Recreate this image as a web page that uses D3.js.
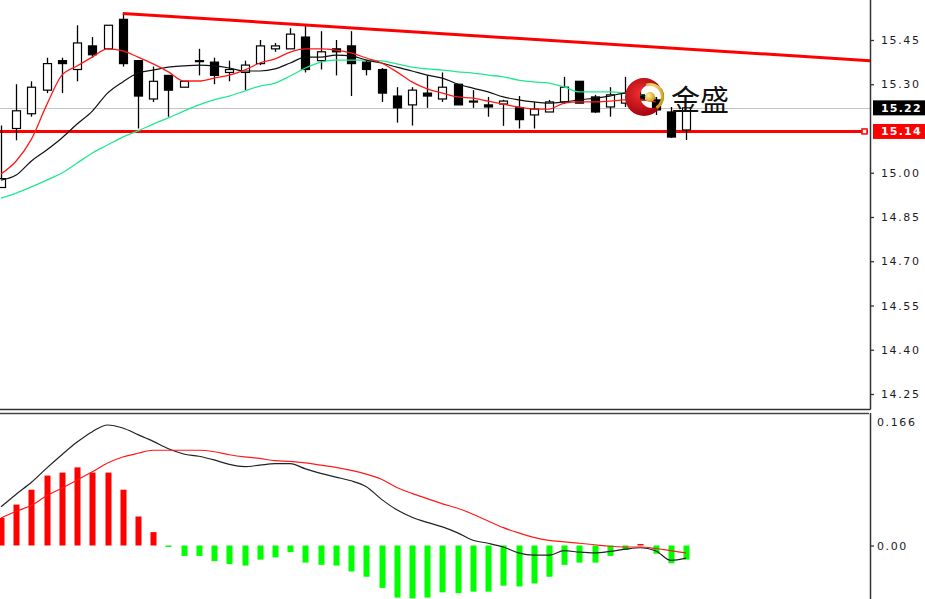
<!DOCTYPE html>
<html>
<head>
<meta charset="utf-8">
<script src="https://cdn.jsdelivr.net/npm/d3@7"></script>
<style>
  html, body { margin: 0; padding: 0; background: #fff; }
  svg { display: block; }
</style>
</head>
<body>
<div id="chart"></div>
<script>
// ---------- DATA ----------
const bars = d3.range(46); // bar index (time order)

const opens  = [14.95,15.15,15.20,15.28,15.38,15.35,15.43,15.42,15.52,15.38,15.25,15.33,15.29,15.38,15.375,15.34,15.34,15.37,15.42,15.42,15.46,15.38,15.42,15.43,15.375,15.35,15.26,15.23,15.27,15.25,15.30,15.243,15.23,15.233,15.22,15.196,15.206,15.24,15.31,15.257,15.223,15.236,15.264,15.247,15.206,15.145];
const highs  = [15.16,15.30,15.31,15.39,15.39,15.50,15.46,15.50,15.54,15.38,15.36,15.33,15.31,15.42,15.39,15.38,15.38,15.45,15.44,15.49,15.50,15.48,15.45,15.48,15.38,15.355,15.29,15.29,15.33,15.34,15.30,15.28,15.257,15.247,15.26,15.24,15.247,15.325,15.31,15.264,15.29,15.325,15.28,15.257,15.223,15.22];
const lows   = [14.95,15.11,15.19,15.27,15.27,15.31,15.39,15.42,15.36,15.15,15.24,15.19,15.29,15.33,15.30,15.31,15.28,15.365,15.41,15.42,15.34,15.35,15.33,15.26,15.33,15.24,15.17,15.16,15.22,15.24,15.23,15.22,15.19,15.159,15.15,15.15,15.206,15.233,15.236,15.203,15.19,15.223,15.233,15.196,15.118,15.111];
const closes = [14.98,15.21,15.29,15.37,15.37,15.44,15.40,15.50,15.37,15.26,15.31,15.28,15.31,15.38,15.33,15.35,15.365,15.43,15.43,15.47,15.35,15.41,15.41,15.37,15.35,15.27,15.22,15.28,15.26,15.29,15.23,15.243,15.223,15.243,15.18,15.216,15.24,15.29,15.236,15.206,15.264,15.27,15.247,15.213,15.121,15.22];

const maFast = [14.996,15.040,15.114,15.230,15.331,15.362,15.392,15.420,15.413,15.392,15.369,15.342,15.311,15.311,15.321,15.331,15.348,15.372,15.386,15.409,15.420,15.420,15.416,15.406,15.389,15.372,15.342,15.308,15.284,15.270,15.257,15.253,15.243,15.233,15.223,15.216,15.216,15.236,15.240,15.240,15.243,15.247,15.247,15.240];
const maMid  = [14.975,14.992,15.040,15.077,15.118,15.165,15.209,15.270,15.308,15.338,15.348,15.358,15.362,15.365,15.362,15.355,15.345,15.345,15.352,15.372,15.392,15.392,15.399,15.396,15.382,15.372,15.358,15.345,15.331,15.321,15.301,15.287,15.274,15.257,15.247,15.240,15.236,15.240,15.247,15.253,15.260,15.270,15.264,15.253];
const maSlow = [14.914,14.931,14.952,14.975,14.999,15.033,15.067,15.094,15.121,15.142,15.165,15.186,15.209,15.230,15.247,15.260,15.277,15.294,15.304,15.328,15.355,15.375,15.382,15.382,15.382,15.379,15.369,15.358,15.352,15.348,15.342,15.338,15.331,15.325,15.314,15.308,15.304,15.291,15.274,15.274,15.274,15.270,15.264,15.253];

const macdHist = [0.037,0.055,0.075,0.094,0.098,0.105,0.098,0.098,0.075,0.039,0.018,-0.002,-0.014,-0.014,-0.021,-0.025,-0.027,-0.019,-0.016,-0.009,-0.023,-0.026,-0.027,-0.035,-0.042,-0.057,-0.070,-0.071,-0.070,-0.063,-0.064,-0.062,-0.062,-0.054,-0.055,-0.051,-0.042,-0.026,-0.023,-0.023,-0.014,-0.006,0.002,-0.011,-0.024,-0.019];
const macdLine = [0.052,0.069,0.085,0.104,0.122,0.139,0.153,0.162,0.158,0.149,0.140,0.130,0.123,0.120,0.115,0.109,0.106,0.108,0.110,0.110,0.103,0.097,0.092,0.087,0.079,0.062,0.048,0.038,0.031,0.025,0.017,0.007,0.003,-0.002,-0.010,-0.013,-0.013,-0.007,-0.009,-0.010,-0.008,-0.005,-0.003,-0.007,-0.020,-0.017];
const macdSignal = [0.037,0.046,0.054,0.067,0.077,0.088,0.099,0.111,0.119,0.124,0.128,0.128,0.128,0.128,0.126,0.122,0.119,0.117,0.114,0.113,0.111,0.108,0.105,0.101,0.096,0.089,0.078,0.070,0.063,0.056,0.050,0.042,0.033,0.024,0.017,0.011,0.007,0.005,0.003,0.001,-0.001,-0.002,-0.002,-0.004,-0.007,-0.010];

const priceTicks = [15.45,15.30,15.00,14.85,14.70,14.55,14.40,14.25];
const macdTicks = [0.166, 0.00];
const macdTickLabels = ["0.166", "0.00"];
const supportPrice = 15.14;
const currentPrice = 15.22;
const trendIdx = [8, 57.1];
const trendPrice = [15.54, 15.38];
const logoText = "金盛";

// ---------- LAYOUT ----------
const W = 925, H = 599;
const axisX = 870;
const mainBottom = 409;
const macdTop = 413;

const svg = d3.select("#chart").append("svg")
  .attr("width", W).attr("height", H)
  .style("font-family", "'DejaVu Sans', Verdana, sans-serif");

svg.append("rect").attr("width", W).attr("height", H).attr("fill", "#fff");

const defs = svg.append("defs");
defs.append("clipPath").attr("id", "clipMain")
  .append("rect").attr("x", 0).attr("y", 0).attr("width", axisX).attr("height", mainBottom);
defs.append("clipPath").attr("id", "clipMacd")
  .append("rect").attr("x", 0).attr("y", macdTop + 1).attr("width", axisX).attr("height", H - macdTop);

const x = d3.scaleLinear().domain([0, 45]).range([1, 686]);
const y = d3.scaleLinear().domain([14.25, 15.45]).range([394, 40]);
const ym = d3.scaleLinear().domain([0, 0.166]).range([545.5, 422]);

const main = svg.append("g").attr("clip-path", "url(#clipMain)");

// current price line
main.append("line")
  .attr("x1", 0).attr("x2", axisX)
  .attr("y1", Math.round(y(currentPrice)) + 0.5).attr("y2", Math.round(y(currentPrice)) + 0.5)
  .attr("stroke", "#c4c4c4").attr("stroke-width", 1);

// support line
main.append("line")
  .attr("x1", 0).attr("x2", axisX - 2)
  .attr("y1", y(supportPrice)).attr("y2", y(supportPrice))
  .attr("stroke", "#ff0000").attr("stroke-width", 3);
main.append("rect")
  .attr("x", axisX - 8).attr("y", y(supportPrice) - 2.5)
  .attr("width", 5).attr("height", 5)
  .attr("fill", "#fff").attr("stroke", "#ff0000").attr("stroke-width", 1.5);

// candles
const cg = main.append("g");
bars.forEach(i => {
  const cx = Math.round(x(i)) + 0.5;
  cg.append("line")
    .attr("x1", cx).attr("x2", cx)
    .attr("y1", y(highs[i])).attr("y2", y(lows[i]))
    .attr("stroke", "#000").attr("stroke-width", 1.3);
  const up = closes[i] >= opens[i];
  const top = y(Math.max(opens[i], closes[i]));
  const bot = y(Math.min(opens[i], closes[i]));
  cg.append("rect")
    .attr("x", cx - 4).attr("y", top)
    .attr("width", 8).attr("height", Math.max(1, bot - top))
    .attr("fill", up ? "#fff" : "#000")
    .attr("stroke", "#000").attr("stroke-width", 1.2);
});

// moving averages
const maLine = d3.line().x((d, i) => x(i)).y(d => y(d)).curve(d3.curveMonotoneX);
main.append("path").datum(maSlow).attr("d", maLine)
  .attr("fill", "none").attr("stroke", "#20e890").attr("stroke-width", 1.3);
main.append("path").datum(maMid).attr("d", maLine)
  .attr("fill", "none").attr("stroke", "#111").attr("stroke-width", 1.2);
main.append("path").datum(maFast).attr("d", maLine)
  .attr("fill", "none").attr("stroke", "#ff1a1a").attr("stroke-width", 1.3);

// resistance trend line
main.append("line")
  .attr("x1", x(trendIdx[0])).attr("y1", y(trendPrice[0]))
  .attr("x2", x(trendIdx[1])).attr("y2", y(trendPrice[1]))
  .attr("stroke", "#ff0000").attr("stroke-width", 3);

// logo
const grad = defs.append("radialGradient").attr("id", "redG")
  .attr("cx", "40%").attr("cy", "40%").attr("r", "65%");
grad.append("stop").attr("offset", "0%").attr("stop-color", "#f03030");
grad.append("stop").attr("offset", "100%").attr("stop-color", "#a0000c");
const gold = defs.append("radialGradient").attr("id", "goldG")
  .attr("cx", "35%").attr("cy", "35%").attr("r", "70%");
gold.append("stop").attr("offset", "0%").attr("stop-color", "#fff2a0");
gold.append("stop").attr("offset", "100%").attr("stop-color", "#c89810");

const logo = svg.append("g");
const lcx = 644, lcy = 97;
const outer = d3.path(); outer.arc(lcx, lcy, 19, 0, 2 * Math.PI);
const inner = d3.path(); inner.moveTo(664, 96); inner.arc(652, 96, 12, 0, 2 * Math.PI);
logo.append("path").attr("d", outer.toString() + inner.toString())
  .attr("fill-rule", "evenodd").attr("fill", "url(#redG)");
const arcG = d3.arc().innerRadius(11).outerRadius(14)
  .startAngle(-0.3).endAngle(2.6);
logo.append("path").attr("d", arcG()).attr("transform", "translate(650,97)").attr("fill", "url(#goldG)");
logo.append("circle").attr("cx", 650).attr("cy", 97).attr("r", 5).attr("fill", "url(#goldG)");
svg.append("text").attr("x", 671).attr("y", 111)
  .style("font-family", "'Noto Sans CJK SC', sans-serif")
  .attr("font-size", 29).attr("fill", "#111").text(logoText);

// ---------- MACD panel ----------
const mg = svg.append("g").attr("clip-path", "url(#clipMacd)");
bars.forEach(i => {
  const v = macdHist[i];
  const y0 = ym(0), y1 = ym(v);
  mg.append("rect")
    .attr("x", Math.round(x(i)) - 2.5).attr("width", 6)
    .attr("y", Math.min(y0, y1)).attr("height", Math.max(1.5, Math.abs(y1 - y0)))
    .attr("fill", v >= 0 ? "#ff0000" : "#00ff00");
});
const mLine = d3.line().x((d, i) => x(i)).y(d => ym(d)).curve(d3.curveMonotoneX);
mg.append("path").datum(macdLine).attr("d", mLine)
  .attr("fill", "none").attr("stroke", "#222").attr("stroke-width", 1.2);
mg.append("path").datum(macdSignal).attr("d", mLine)
  .attr("fill", "none").attr("stroke", "#ff1a1a").attr("stroke-width", 1.2);

// ---------- Frames & axes ----------
svg.append("line").attr("x1", axisX + 0.5).attr("x2", axisX + 0.5).attr("y1", 0).attr("y2", mainBottom + 0.5)
  .attr("stroke", "#333").attr("stroke-width", 1.5);
svg.append("line").attr("x1", axisX + 0.5).attr("x2", axisX + 0.5).attr("y1", macdTop).attr("y2", H)
  .attr("stroke", "#333").attr("stroke-width", 1.5);
svg.append("line").attr("x1", 0).attr("x2", axisX + 0.5).attr("y1", mainBottom + 0.5).attr("y2", mainBottom + 0.5)
  .attr("stroke", "#333").attr("stroke-width", 1.3);
svg.append("line").attr("x1", 0).attr("x2", axisX - 1).attr("y1", macdTop + 0.5).attr("y2", macdTop + 0.5)
  .attr("stroke", "#444").attr("stroke-width", 1.3);

const yAxis = d3.axisRight(y).tickValues(priceTicks).tickSize(4).tickPadding(7)
  .tickFormat(d3.format(".2f"));
const ga = svg.append("g").attr("transform", `translate(${axisX},0)`).call(yAxis);
ga.select(".domain").remove();
ga.selectAll(".tick line").attr("stroke", "#333").attr("stroke-width", 1.3);
ga.selectAll(".tick text").attr("fill", "#1b1b28").attr("font-size", 11)
  .style("font-family", "'DejaVu Sans', sans-serif").style("letter-spacing", "1.6px");

const mAxis = d3.axisRight(ym).tickValues(macdTicks).tickSize(4).tickPadding(3)
  .tickFormat((d, i) => macdTickLabels[i]);
const gm = svg.append("g").attr("transform", `translate(${axisX},0)`).call(mAxis);
gm.select(".domain").remove();
gm.selectAll(".tick line").attr("stroke", (d, i) => i === 0 ? "none" : "#333").attr("stroke-width", 1.3);
gm.selectAll(".tick text").attr("fill", "#1b1b28").attr("font-size", 11)
  .style("font-family", "'DejaVu Sans', sans-serif").style("letter-spacing", "1.6px");

// price labels
function priceBox(p, bg) {
  const g = svg.append("g");
  g.append("rect").attr("x", axisX + 3).attr("y", y(p) - 7.5)
    .attr("width", W - axisX - 3).attr("height", 15).attr("fill", bg);
  g.append("text").attr("x", axisX + 11).attr("y", y(p)).attr("dy", "0.36em")
    .attr("fill", "#fff").attr("font-size", 11).attr("font-weight", "bold")
    .style("letter-spacing", "1.2px").text(d3.format(".2f")(p));
}
priceBox(currentPrice, "#000");
priceBox(supportPrice, "#ff0000");
</script>
</body>
</html>
